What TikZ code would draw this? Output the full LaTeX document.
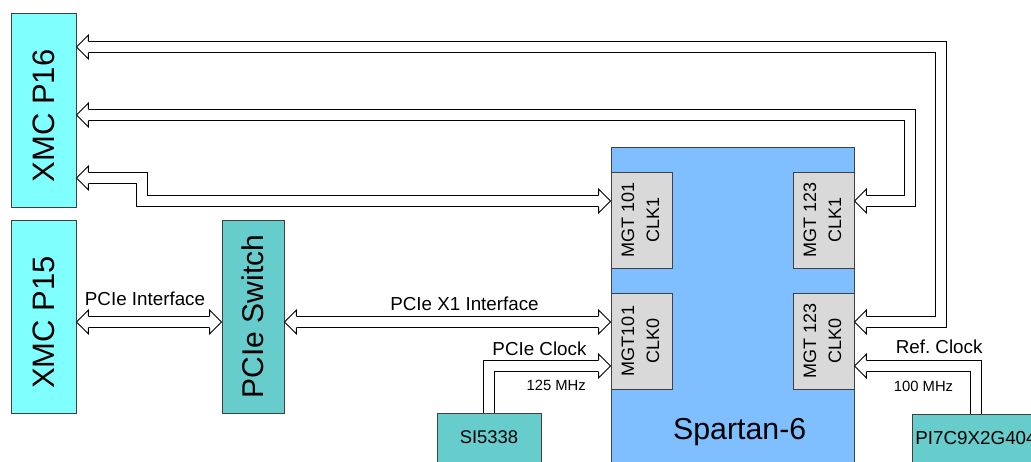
\documentclass[tikz,border=0pt]{standalone}
\usepackage{fontspec}
\setmainfont{Liberation Sans}
\usetikzlibrary{positioning}
\definecolor{xmccyan}{RGB}{128,255,255}
\definecolor{chipteal}{RGB}{102,204,204}
\definecolor{fpgablue}{RGB}{128,191,255}
\definecolor{mgtgray}{RGB}{217,217,217}
\definecolor{edgegray}{RGB}{64,64,64}
\newcommand\bigfont{\fontsize{31}{36}\selectfont}
\newcommand\mgtfont{\fontsize{18}{25}\selectfont}

\begin{document}
\begin{tikzpicture}[x=1pt, y=-1pt, line join=miter,
box/.style={draw=edgegray, line width=0.8pt, rectangle, inner sep=0pt},
bus/.style={draw=black, double=white, double distance=10.8pt, line width=0.9pt},
lbl/.style={font=\fontsize{18.8}{22}\selectfont, inner sep=0pt},
mhz/.style={font=\fontsize{14.8}{17}\selectfont, inner sep=0pt},
fathead/.pic={
\fill[white] (0,0) -- (-12,-12) -- (-12,12) -- cycle;
\draw[black, line width=0.9pt] (-12,-5.85) -- (-12,-12) -- (0,0) -- (-12,12) -- (-12,5.85);
}]
\useasboundingbox (0,0) rectangle (1031,462);
\clip (0,0) rectangle (1031,462);

% boxes
\node[box, fill=xmccyan, minimum width=65pt, minimum height=194pt, font=\bigfont] (xmcA) at (43.5,110) {\rotatebox{90}{\hspace*{-12pt}XMC P16}};
\node[box, fill=xmccyan, minimum width=65pt, minimum height=193pt, font=\bigfont] (xmcB) at (43.5,316.5) {\rotatebox{90}{\hspace*{-12pt}XMC P15}};
\node[box, fill=chipteal, minimum width=62pt, minimum height=193pt, font=\fontsize{30}{36}\selectfont] (sw) at (253,316.5) {\rotatebox{90}{PCIe Switch}};

\node[box, fill=fpgablue, minimum width=243pt, minimum height=333pt] (fpga) at (732.5,313.5) {};
\node[font=\fontsize{30.3}{36}\selectfont, inner sep=0pt] (fpgaName) at (739.7,431.7) {Spartan-6};

\node[box, fill=mgtgray, minimum width=61pt, minimum height=96pt, font=\mgtfont] (mgt101b) at (641.5,220) {\rotatebox{90}{\begin{tabular}{@{}c@{}}MGT 101\\CLK1\end{tabular}}};
\node[box, fill=mgtgray, minimum width=61pt, minimum height=96pt, font=\mgtfont] (mgt101a) at (641.5,341) {\rotatebox{90}{\begin{tabular}{@{}c@{}}MGT101\\CLK0\end{tabular}}};
\node[box, fill=mgtgray, minimum width=61pt, minimum height=96pt, font=\mgtfont] (mgt123b) at (823.5,220) {\rotatebox{90}{\begin{tabular}{@{}c@{}}MGT 123\\CLK1\end{tabular}}};
\node[box, fill=mgtgray, minimum width=61pt, minimum height=96pt, font=\mgtfont] (mgt123a) at (823.5,341) {\rotatebox{90}{\begin{tabular}{@{}c@{}}MGT 123\\CLK0\end{tabular}}};

\node[box, fill=chipteal, minimum width=104pt, minimum height=49pt, font=\fontsize{18.4}{22}\selectfont] (si) at (489,437.5) {SI5338};
\node[box, fill=chipteal, minimum width=128pt, minimum height=48pt, font=\fontsize{18.8}{22}\selectfont] (pi) at (976,438) {PI7C9X2G404};

% levels of the buses
\coordinate (yTop) at (0,47);
\coordinate (yMid) at (0,115);
\coordinate (yLow) at (0,178);
\coordinate (yClk1) at (0,201);
\coordinate (yIf) at (0,322);
\coordinate (yRef) at (0,366);
\coordinate (xOuter) at (941,0);
\coordinate (xInner) at (910,0);
\coordinate (xStep) at (142,0);

% XMC P16 buses
\draw[bus, shorten <=12pt, shorten >=12pt] (xmcA.east |- yTop) -- (xOuter |- yTop) -- (xOuter |- yIf) -- (mgt123a.east |- yIf);
\draw[bus, shorten <=12pt, shorten >=12pt] (xmcA.east |- yMid) -- (xInner |- yMid) -- (xInner |- yClk1) -- (mgt123b.east |- yClk1);
\draw[bus, shorten <=12pt, shorten >=12pt] (xmcA.east |- yLow) -- (xStep |- yLow) -- (xStep |- yClk1) -- (mgt101b.west |- yClk1);
\pic[rotate=180] at (xmcA.east |- yTop) {fathead};
\pic[rotate=180] at (xmcA.east |- yMid) {fathead};
\pic[rotate=180] at (xmcA.east |- yLow) {fathead};
\pic[rotate=180] at (mgt123a.east |- yIf) {fathead};
\pic[rotate=180] at (mgt123b.east |- yClk1) {fathead};
\pic at (mgt101b.west |- yClk1) {fathead};

% PCIe buses
\draw[bus, shorten <=12pt, shorten >=12pt] (xmcB.east |- yIf) -- (sw.west |- yIf);
\pic[rotate=180] at (xmcB.east |- yIf) {fathead};
\pic at (sw.west |- yIf) {fathead};
\node[lbl] (lblIf) at (145,299) {PCIe Interface};

\draw[bus, shorten <=12pt, shorten >=12pt] (sw.east |- yIf) -- (mgt101a.west |- yIf);
\pic[rotate=180] at (sw.east |- yIf) {fathead};
\pic at (mgt101a.west |- yIf) {fathead};
\node[lbl] (lblX1) at (464.5,303.3) {PCIe X1 Interface};

% clocks
\draw[bus, shorten >=12pt] (si.north) |- (mgt101a.west |- yRef);
\pic at (mgt101a.west |- yRef) {fathead};
\node[lbl, anchor=east] (lblPcieClk) at (586.7,348.3) {PCIe Clock};
\node[mhz, anchor=east] (lbl125) at (586,385.7) {125 MHz};

\draw[bus, shorten >=12pt] (pi.north) |- (mgt123a.east |- yRef);
\pic[rotate=180] at (mgt123a.east |- yRef) {fathead};
\node[lbl, anchor=east] (lblRefClk) at (982.7,346.7) {Ref.\ Clock};
\node[mhz, anchor=east] (lbl100) at (953.3,386) {100 MHz};
\end{tikzpicture}
\end{document}
